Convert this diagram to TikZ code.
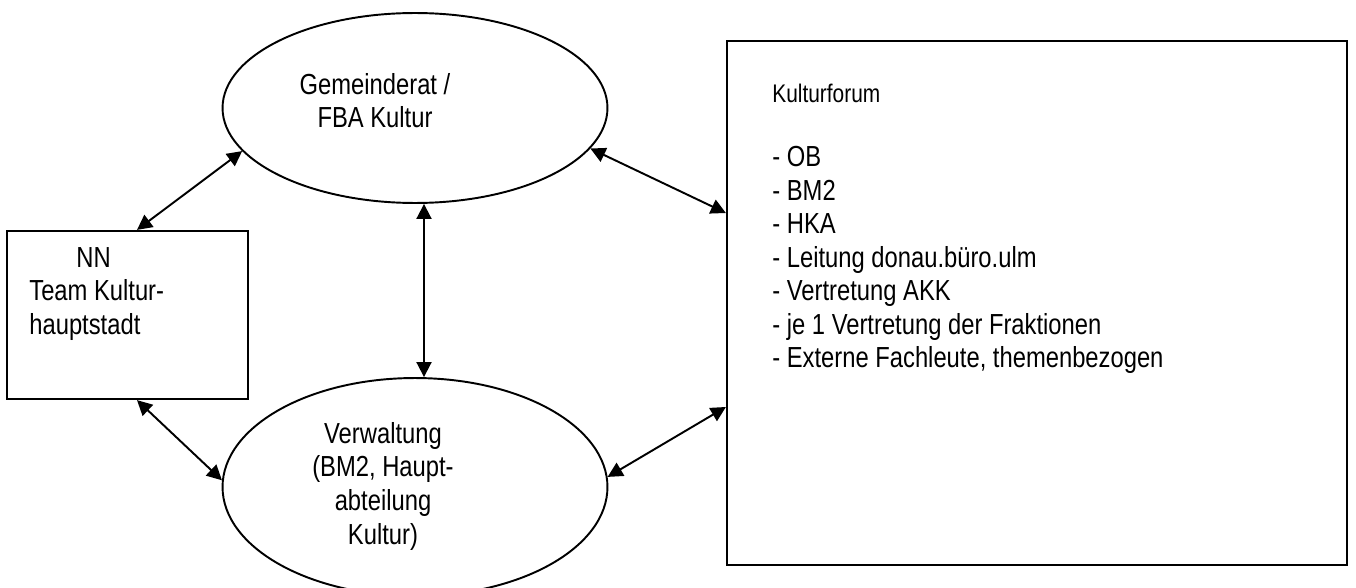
\documentclass[tikz,border=0pt]{standalone}
\usepackage{fontspec}
\setmainfont{Liberation Sans}[FakeStretch=0.82]
\usetikzlibrary{arrows.meta,shapes.geometric}

\tikzset{
  organ/.style={ellipse, draw, line width=1.1pt, inner sep=0pt},
  panel/.style={rectangle, draw, line width=1.3pt, inner sep=0pt},
  txt/.style={inner sep=0pt, font=\fontsize{16.5pt}{19.1pt}\selectfont},
  link/.style={line width=1.1pt, {Triangle[length=0.3cm,width=0.3cm]}-{Triangle[length=0.3cm,width=0.3cm]}}
}

\begin{document}
\begin{tikzpicture}[x=0.02cm,y=-0.02cm]
        \useasboundingbox (0,0) rectangle (1356,588);

        \node[organ, minimum width=7.7cm, minimum height=3.8cm] (rat) at (415,108) {};
        \node[organ, minimum width=7.7cm, minimum height=4.36cm] (verw) at (415,487) {};
        \node[panel, minimum width=4.82cm, minimum height=3.36cm] (team) at (127.5,315) {};
        \node[panel, minimum width=12.4cm, minimum height=10.48cm] (forum) at (1037,303) {};

        \node[txt, anchor=north, align=center] (rattext) at (375,73) {Gemeinderat /\\FBA Kultur};
        \node[txt, anchor=north, align=center] (verwtext) at (383,422) {Verwaltung\\(BM2, Haupt-\\abteilung\\Kultur)};
        \node[txt, anchor=north west, align=left] (teamtext) at (29,247) {\hspace*{0.94cm}NN\\Team Kultur-\\hauptstadt};
        \node[txt, anchor=base west, font=\fontsize{14.5pt}{17pt}\selectfont] (forumtitle) at (772,103) {Kulturforum};
        \node[txt, anchor=north west, align=left] (forumlist) at (772,146) {- OB\\- BM2\\- HKA\\- Leitung donau.büro.ulm\\- Vertretung AKK\\- je 1 Vertretung der Fraktionen\\- Externe Fachleute, themenbezogen};

        \draw[link] (rat.194.5) -- ([xshift=0.19cm]team.north);
        \draw[link] ([xshift=0.19cm]team.south) -- (verw.178.6);
        \draw[link] ([xshift=0.18cm]rat.south) -- ([xshift=0.18cm]verw.north);
        \draw[link] (rat.347.6) -- ([yshift=1.8cm]forum.west);
        \draw[link] ([yshift=-2.08cm]forum.west) -- (verw.3);
\end{tikzpicture}
\end{document}
